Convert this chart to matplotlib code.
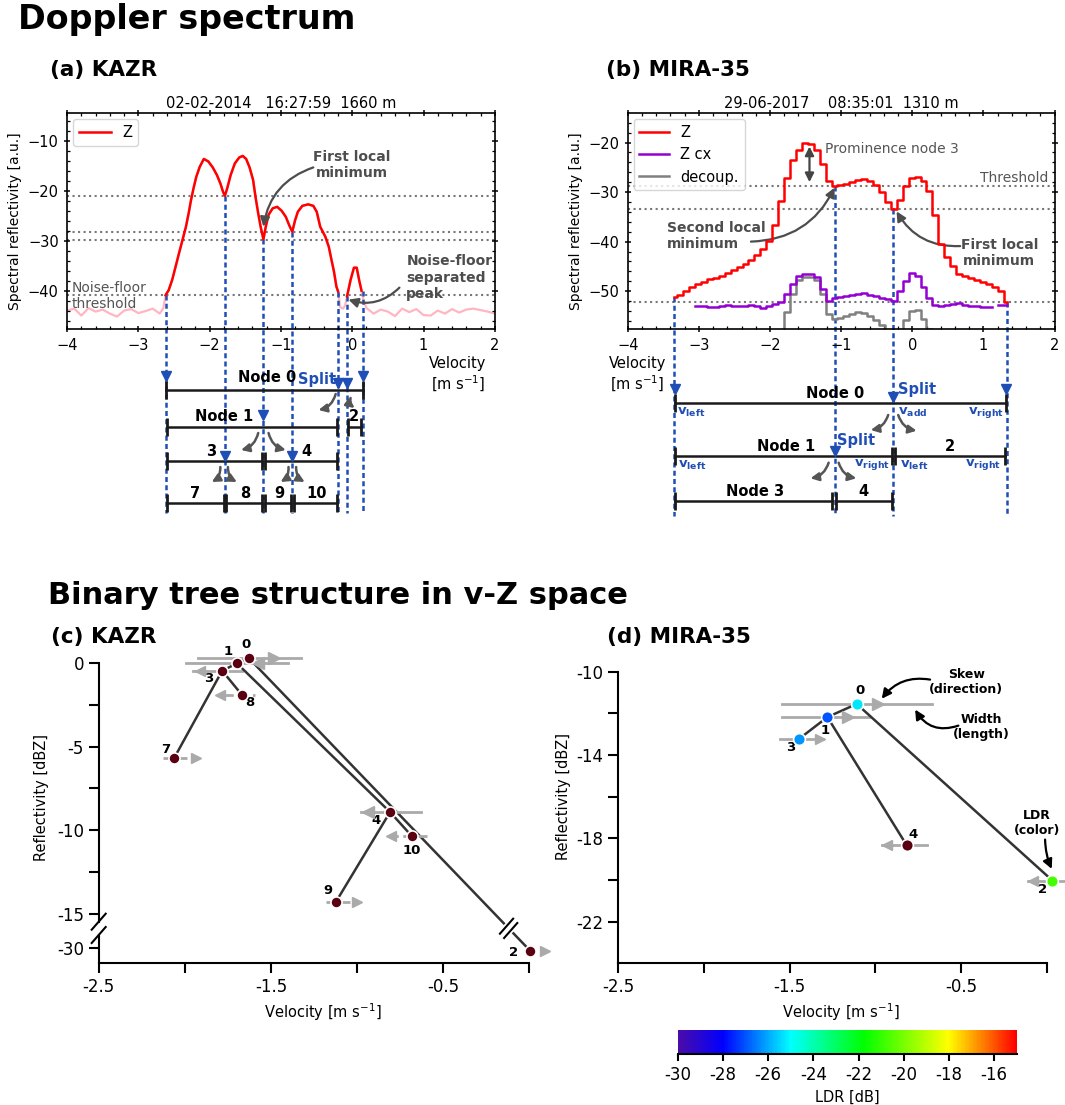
"""Doppler spectra with peak-node binary trees (KAZR, MIRA-35) and the trees in v-Z space."""

import numpy as np
import matplotlib

matplotlib.use("Agg")
import matplotlib.pyplot as plt
from matplotlib import cm
from matplotlib.colors import LinearSegmentedColormap, Normalize
from matplotlib.lines import Line2D
from matplotlib.patches import ConnectionPatch
from matplotlib.ticker import MultipleLocator

W, H = 1065, 1105  # output size in pixels at dpi 100

COLORS = {
    "z": "#ff0000",
    "zcx": "#9400d3",
    "decoup": "#808080",
    "noise": "#ffb6c1",
    "thresh": "#777777",
    "split": "#1f4fb5",
    "tree": "#1a1a1a",
    "tree_arrow": "#555555",
    "note": "#4d4d4d",
    "edge": "#333333",
    "width": "#aaaaaa",
    "no_ldr": "#5a0010",
}

# ---------------------------------------------------------------- (a) KAZR spectrum
KAZR_SIG_V = [-2.618, -2.575, -2.527, -2.478, -2.43, -2.382, -2.333, -2.295, -2.261, -2.222,
              -2.188, -2.14, -2.082, -2.019, -1.957, -1.899, -1.85, -1.812, -1.787, -1.754,
              -1.705, -1.647, -1.585, -1.536, -1.488, -1.44, -1.391, -1.357, -1.319, -1.285,
              -1.246, -1.213, -1.174, -1.116, -1.053, -0.99, -0.932, -0.884, -0.841, -0.802,
              -0.763, -0.7, -0.618, -0.546, -0.498, -0.449, -0.377, -0.329, -0.29, -0.256,
              -0.222, -0.198]
KAZR_SIG_Z = [-40.9, -39.9, -37.9, -35.2, -32.5, -29.9, -27.2, -24.5, -21.8, -19.2,
              -17.2, -15.2, -13.6, -14.1, -15.3, -16.8, -18.5, -20.2, -21.0, -19.5,
              -16.8, -14.5, -13.3, -13.0, -13.6, -15.3, -17.8, -21.2, -24.5, -27.2,
              -29.7, -27.2, -24.8, -23.5, -23.2, -24.0, -25.2, -26.9, -28.2, -25.9,
              -24.2, -23.0, -22.7, -23.0, -24.2, -27.2, -29.2, -31.2, -33.9, -36.2,
              -39.2, -40.2]
KAZR_PEAK_V = [-0.072, -0.024, 0.024, 0.063, 0.097, 0.13]
KAZR_PEAK_Z = [-41.1, -37.9, -35.4, -35.4, -37.9, -40.0]
KAZR_NOISE_LEFT_V = [-4.0, -3.9, -3.8, -3.7, -3.6, -3.5, -3.4, -3.3, -3.2, -3.1, -3.0, -2.9, -2.8, -2.7, -2.65]
KAZR_NOISE_LEFT_Z = [-44.0, -43.6, -45.0, -43.5, -44.2, -43.8, -44.6, -45.2, -44.0, -43.7, -44.5, -44.1, -43.6, -44.6, -43.5]
KAZR_NOISE_MID_V = [-0.17, -0.13, -0.10]
KAZR_NOISE_MID_Z = [-43.3, -43.6, -43.0]
KAZR_NOISE_RIGHT_V = [0.16, 0.2, 0.3, 0.4, 0.5, 0.6, 0.7, 0.8, 0.9, 1.0,
                      1.1, 1.2, 1.3, 1.4, 1.5, 1.6, 1.7, 1.8, 1.9, 2.0]
KAZR_NOISE_RIGHT_Z = [-42.0, -43.5, -44.6, -43.8, -44.2, -45.1, -43.6, -44.3, -43.7, -44.9,
                      -45.0, -44.0, -44.6, -43.7, -44.4, -43.8, -43.6, -43.9, -44.2, -44.6]
KAZR_THRESHOLDS = [-21.0, -28.3, -29.9, -40.9]
KAZR_BOUND_V = [-2.618, -1.787, -1.246, -0.841, -0.198, -0.072, 0.145]
KAZR_BOUND_Z = [-40.9, -21.0, -29.7, -28.2, -40.2, -41.1, -40.0]

# node velocity ranges of the KAZR tree (depth = row)
KAZR_SEG_NAME = ["Node 0", "Node 1", "2", "3", "4", "7", "8", "9", "10"]
KAZR_SEG_LO = [-2.618, -2.604, -0.053, -2.604, -1.225, -2.604, -1.77, -1.225, -0.817]
KAZR_SEG_HI = [0.145, -0.217, 0.121, -1.265, -0.217, -1.805, -1.265, -0.855, -0.217]
KAZR_SEG_DEPTH = [0, 1, 1, 2, 2, 3, 3, 3, 3]
KAZR_SEG_LABEL_V = [-1.198, -1.80, 0.024, -1.986, -0.643, -2.203, -1.502, -1.029, -0.498]

# ---------------------------------------------------------------- (b) MIRA-35 spectrum
MIRA_V = [-3.345, -3.262, -3.178, -3.095, -3.011, -2.928, -2.845, -2.761, -2.678, -2.594,
          -2.511, -2.428, -2.344, -2.261, -2.177, -2.094, -2.011, -1.927, -1.844, -1.760,
          -1.677, -1.594, -1.510, -1.427, -1.343, -1.260, -1.177, -1.093, -1.010, -0.926,
          -0.843, -0.760, -0.676, -0.593, -0.509, -0.426, -0.343, -0.259, -0.176, -0.092,
          -0.009, 0.075, 0.158, 0.241, 0.325, 0.408, 0.492, 0.575, 0.658, 0.742,
          0.825, 0.909, 0.992, 1.075, 1.159, 1.242, 1.326]
MIRA_Z = [-51.2, -50.7, -50.0, -49.2, -48.5, -48.1, -47.6, -47.3, -46.9, -46.4,
          -45.8, -45.2, -44.5, -43.7, -42.8, -41.5, -39.9, -36.7, -31.9, -27.1,
          -23.5, -21.5, -20.1, -20.3, -21.5, -24.3, -27.7, -28.8, -28.5, -28.3,
          -28.0, -27.5, -27.3, -27.7, -28.5, -30.0, -32.0, -33.4, -31.7, -28.7,
          -27.1, -26.9, -27.7, -29.8, -34.7, -40.4, -43.1, -45.0, -46.5, -47.0,
          -47.4, -47.8, -48.2, -48.6, -49.2, -50.0, -52.2]
nan = np.nan
MIRA_ZCX = [nan, nan, nan, nan, -52.9, -53.0, -53.2, -53.1, -53.0, -52.8,
            -52.9, -53.0, -53.0, -52.8, -53.0, -53.4, -53.0, -52.5, -52.2, -50.5,
            -48.5, -47.0, -46.5, -46.6, -47.2, -49.5, -51.9, -51.3, -51.1, -50.9,
            -50.7, -50.5, -50.4, -50.7, -51.0, -51.3, -51.5, -51.9, -49.9, -48.0,
            -46.4, -47.0, -49.2, -51.3, -52.7, -53.0, -52.7, -52.5, -52.3, -52.7,
            -52.9, -53.0, -53.1, -53.2, nan, -52.8, -52.8]
MIRA_DECOUP = [nan, nan, nan, nan, nan, nan, nan, nan, nan, nan,
               nan, nan, nan, nan, nan, nan, nan, nan, -60.0, -54.2,
               -50.5, -47.7, -47.2, -47.2, -47.7, -50.5, -54.6, -55.6, -55.4, -55.1,
               -54.6, -54.2, -54.4, -55.1, -55.9, -56.9, -60.0, nan, -60.0, -55.8,
               -54.0, -53.9, -55.6, -57.6, -60.0, nan, nan, nan, nan, nan,
               nan, nan, nan, nan, nan, nan, nan]
MIRA_THRESHOLDS = [-28.7, -33.4, -52.1]
MIRA_BOUND_V = [-3.345, -1.086, -0.267, 1.327]
MIRA_BOUND_Z = [-51.2, -28.8, -33.4, -52.2]

MIRA_SEG_NAME = ["Node 0", "Node 1", "2", "Node 3", "4"]
MIRA_SEG_LO = [-3.341, -3.33, -0.245, -3.33, -1.068]
MIRA_SEG_HI = [1.322, -0.292, 1.308, -1.125, -0.292]
MIRA_SEG_DEPTH = [0, 1, 1, 2, 2]
MIRA_SEG_LABEL_V = [-1.082, -1.77, 0.532, -2.216, -0.682]

# ---------------------------------------------------------------- (c) KAZR tree in v-Z space
C_ID = [0, 1, 2, 3, 4, 7, 8, 9, 10]
C_PARENT = [None, 0, 0, 1, 1, 3, 3, 4, 4]
C_V = [-1.629, -1.697, 0.005, -1.783, -0.808, -2.063, -1.669, -1.122, -0.682]
C_Z = [0.28, -0.04, -30.14, -0.48, -8.91, -5.71, -1.91, -14.26, -10.34]
C_WIDTH_LO = [-1.922, -1.993, -0.01, -1.951, -0.979, -2.128, -1.78, -1.18, -0.818]
C_WIDTH_HI = [-1.327, -1.399, 0.02, -1.670, -0.630, -1.989, -1.59, -1.041, -0.595]
C_SKEW_V = [-1.48, -1.573, 0.092, -1.912, -0.934, -1.935, -1.795, -0.998, -0.804]
C_SKEW_SIGN = [1, -1, 1, -1, -1, 1, -1, 1, -1]
C_LDR = [nan, nan, nan, nan, nan, nan, nan, nan, nan]
C_WIDTH_LS = ["-", "-", "-", "-", "-", "--", "--", "--", "--"]
C_LABEL_OFF = [(-3, 14), (-9, 12), (-16, -2), (-13, -8), (-14, -8), (-8, 9), (8, -8), (-8, 11), (0, -14)]

# ---------------------------------------------------------------- (d) MIRA-35 tree in v-Z space
D_ID = [0, 1, 2, 3, 4]
D_PARENT = [None, 0, 0, 1, 1]
D_V = [-1.109, -1.280, 0.033, -1.446, -0.817]
D_Z = [-11.55, -12.18, -20.03, -13.23, -18.34]
D_WIDTH_LO = [-1.547, -1.547, -0.107, -1.556, -0.963]
D_WIDTH_HI = [-0.671, -1.031, 0.107, -1.303, -0.700]
D_SKEW_V = [-0.982, -1.158, -0.082, -1.323, -0.934]
D_SKEW_SIGN = [1, 1, -1, 1, -1]
D_LDR = [-25.3, -27.0, -20.8, -26.2, nan]
D_LABEL_OFF = [(3, 13), (-2, -13), (-10, -9), (-8, -9), (6, 11)]

LDR_TICKS = [-30, -28, -26, -24, -22, -20, -18, -16]

LDR_CMAP = LinearSegmentedColormap.from_list(
    "ldr", [(0.0, "#4b0ca8"), (0.133, "#0000ff"), (0.333, "#00ffff"),
            (0.55, "#00ff00"), (0.8, "#ffff00"), (1.0, "#ff0000")])
LDR_CMAP.set_bad(COLORS["no_ldr"])
LDR_NORM = Normalize(-30, -15)

plt.rcParams["font.family"] = "DejaVu Sans"

fig = plt.figure(figsize=(W / 100, H / 100), dpi=100)

SPEC_TOP, SPEC_BOTTOM = 113.3, 329.3


def rect(left, top, right, bottom):
    """Pixel box (top-left origin) -> add_axes rectangle."""
    return [left / W, 1 - bottom / H, (right - left) / W, (bottom - top) / H]


def row(py):
    """Pixel row around a spectrum axis -> axes fraction."""
    return (SPEC_BOTTOM - py) / (SPEC_BOTTOM - SPEC_TOP)


def style_spectrum(ax, ylim, title):
    ax.set_xlim(-4, 2)
    ax.set_ylim(*ylim)
    ax.xaxis.set_major_locator(MultipleLocator(1))
    ax.xaxis.set_minor_locator(MultipleLocator(0.2))
    ax.yaxis.set_major_locator(MultipleLocator(10))
    ax.yaxis.set_minor_locator(MultipleLocator(2))
    ax.tick_params(which="both", top=True, right=True, labelsize=10.5)
    ax.tick_params(which="major", length=5, width=1.1, direction="inout")
    ax.tick_params(which="minor", length=2.5, width=0.9, direction="in")
    for spine in ax.spines.values():
        spine.set_linewidth(1.2)
    ax.set_ylabel("Spectral reflectivity [a.u.]", fontsize=10)
    ax.set_title(title, fontsize=10.5, pad=4)


def draw_bounds(ax, bound_v, bound_z, bottom_py):
    y0, y1 = ax.get_ylim()
    zb = y0 + row(bottom_py) * (y1 - y0)
    for v, z in zip(bound_v, bound_z):
        ax.plot([v, v], [z, zb], color=COLORS["split"], lw=1.8, ls=(0, (2, 1.3)),
                clip_on=False, zorder=1)


def draw_tree(ax, lo, hi, depth, names, label_v, seg_rows, label_rows):
    tr = ax.get_xaxis_transform()
    for l, h, d, name, lv in zip(lo, hi, depth, names, label_v):
        y = row(seg_rows[d])
        ax.plot([l, h], [y, y], transform=tr, color=COLORS["tree"], lw=1.8,
                marker="|", ms=13, mew=2, clip_on=False)
        ax.text(lv, row(label_rows[d]), name, transform=tr, ha="center", va="center",
                fontsize=10.5, weight="bold")


def split_marks(ax, points):
    tr = ax.get_xaxis_transform()
    for v, py in points:
        ax.plot(v, row(py), transform=tr, marker="v", ms=7, color=COLORS["split"],
                clip_on=False, zorder=5)


def tree_arrow(ax, tail, head, rad):
    tr = ax.get_xaxis_transform()
    ax.annotate("", xy=(head[0], row(head[1])), xycoords=tr,
                xytext=(tail[0], row(tail[1])), textcoords=tr, annotation_clip=False,
                arrowprops=dict(arrowstyle="-|>", color=COLORS["tree_arrow"], lw=1.8,
                                mutation_scale=12, shrinkA=0, shrinkB=0,
                                connectionstyle=f"arc3,rad={rad}"))


def note_arrow(ax, tail, head, rad, color):
    ax.annotate("", xy=head, xytext=tail, annotation_clip=False,
                arrowprops=dict(arrowstyle="-|>", color=color, lw=1.6, mutation_scale=14,
                                shrinkA=0, shrinkB=0, connectionstyle=f"arc3,rad={rad}"))


def blue_text(ax, v, py, s, ha="left", size=10.5):
    ax.text(v, row(py), s, transform=ax.get_xaxis_transform(), ha=ha, va="center",
            color=COLORS["split"], fontsize=size, weight="bold")


# ================================================================ (a)
ax_a = fig.add_axes(rect(67.1, SPEC_TOP, 494.8, SPEC_BOTTOM))
style_spectrum(ax_a, (-47.75, -4.45), "02-02-2014   16:27:59  1660 m")
full_v = KAZR_NOISE_LEFT_V + KAZR_SIG_V + KAZR_NOISE_MID_V + KAZR_PEAK_V + KAZR_NOISE_RIGHT_V
full_z = KAZR_NOISE_LEFT_Z + KAZR_SIG_Z + KAZR_NOISE_MID_Z + KAZR_PEAK_Z + KAZR_NOISE_RIGHT_Z
ax_a.plot(full_v, full_z, color=COLORS["noise"], lw=1.6, zorder=1)
for z in KAZR_THRESHOLDS:
    ax_a.axhline(z, color=COLORS["thresh"], ls=":", lw=1.5, zorder=1)
ax_a.plot(KAZR_SIG_V, KAZR_SIG_Z, color=COLORS["z"], lw=1.8, label="Z", zorder=3)
ax_a.plot(KAZR_PEAK_V, KAZR_PEAK_Z, color=COLORS["z"], lw=1.8, zorder=3)
ax_a.legend(loc="upper left", fontsize=10.5, handlelength=2.2, borderaxespad=0.4)

ax_a.text(-0.01, -14.8, "First local\nminimum", ha="center", va="center", fontsize=10,
          weight="bold", color=COLORS["note"])
note_arrow(ax_a, (-0.546, -15.3), (-1.246, -27.2), 0.3, COLORS["note"])
ax_a.text(0.758, -37.4, "Noise-floor\nseparated\npeak", ha="left", va="center", fontsize=10,
          weight="bold", color=COLORS["note"])
note_arrow(ax_a, (0.662, -39.4), (-0.053, -41.8), -0.3, COLORS["note"])
ax_a.text(-3.94, -41.0, "Noise-floor\nthreshold", ha="left", va="center", fontsize=10, color="#555555")
ax_a.text(1.484, row(375), "Velocity\n[m s$^{-1}$]", transform=ax_a.get_xaxis_transform(),
          ha="center", va="center", fontsize=10.5)

draw_bounds(ax_a, KAZR_BOUND_V, KAZR_BOUND_Z, 513)
draw_tree(ax_a, KAZR_SEG_LO, KAZR_SEG_HI, KAZR_SEG_DEPTH, KAZR_SEG_NAME, KAZR_SEG_LABEL_V,
          [390, 427, 461, 503], [378, 417, 452, 494])
split_marks(ax_a, [(-2.618, 376), (0.145, 376), (-0.198, 383), (-0.072, 383),
                   (-1.246, 415), (-1.787, 456), (-0.841, 456)])
blue_text(ax_a, -0.488, 380, "Split", ha="center")
tree_arrow(ax_a, (-0.232, 394), (-0.473, 410), -0.3)
tree_arrow(ax_a, (-0.024, 398), (0.034, 408), 0.3)
tree_arrow(ax_a, (-1.319, 433), (-1.56, 450), -0.3)
tree_arrow(ax_a, (-1.174, 433), (-0.932, 450), 0.3)
tree_arrow(ax_a, (-1.85, 467), (-1.971, 482), -0.3)
tree_arrow(ax_a, (-1.744, 467), (-1.618, 482), 0.3)
tree_arrow(ax_a, (-0.894, 467), (-1.005, 482), -0.3)
tree_arrow(ax_a, (-0.787, 467), (-0.667, 482), 0.3)

# ================================================================ (b)
ax_b = fig.add_axes(rect(627.7, SPEC_TOP, 1054.6, SPEC_BOTTOM))
style_spectrum(ax_b, (-57.7, -14.1), "29-06-2017    08:35:01  1310 m")
for z in MIRA_THRESHOLDS:
    ax_b.axhline(z, color=COLORS["thresh"], ls=":", lw=1.5, zorder=1)
ax_b.plot(MIRA_V, MIRA_Z, color=COLORS["z"], lw=1.8, drawstyle="steps-mid", label="Z", zorder=4)
ax_b.plot(MIRA_V, MIRA_ZCX, color=COLORS["zcx"], lw=1.8, drawstyle="steps-mid", label="Z cx", zorder=3)
ax_b.plot(MIRA_V, MIRA_DECOUP, color=COLORS["decoup"], lw=1.8, drawstyle="steps-mid",
          label="decoup.", zorder=2)
ax_b.legend(loc="upper left", fontsize=10.5, handlelength=2.0, borderaxespad=0.4)

ax_b.annotate("", xy=(-1.445, -28.0), xytext=(-1.445, -20.8),
              arrowprops=dict(arrowstyle="<|-|>", color="#444444", lw=1.6, mutation_scale=13,
                              shrinkA=0, shrinkB=0))
ax_b.text(-1.22, -21.4, "Prominence node 3", ha="left", va="center", fontsize=10, color="#555555")
ax_b.text(1.91, -27.1, "Threshold", ha="right", va="center", fontsize=10, color="#555555")
ax_b.text(-3.454, -38.8, "Second local\nminimum", ha="left", va="center", fontsize=10,
          weight="bold", color=COLORS["note"])
note_arrow(ax_b, (-2.268, -40.0), (-1.092, -29.1), 0.3, COLORS["note"])
ax_b.text(1.224, -42.3, "First local\nminimum", ha="center", va="center", fontsize=10,
          weight="bold", color=COLORS["note"])
note_arrow(ax_b, (0.673, -40.9), (-0.221, -33.9), -0.3, COLORS["note"])
ax_b.text(-3.868, row(375), "Velocity\n[m s$^{-1}$]", transform=ax_b.get_xaxis_transform(),
          ha="center", va="center", fontsize=10.5)

draw_bounds(ax_b, MIRA_BOUND_V, MIRA_BOUND_Z, 516)
draw_tree(ax_b, MIRA_SEG_LO, MIRA_SEG_HI, MIRA_SEG_DEPTH, MIRA_SEG_NAME, MIRA_SEG_LABEL_V,
          [403.3, 456, 501], [394, 446.7, 491.7])
split_marks(ax_b, [(-3.341, 389.3), (1.322, 389.3), (-0.268, 396.7), (-1.092, 450.7)])
blue_text(ax_b, -0.207, 390, "Split")
blue_text(ax_b, -1.054, 441, "Split")
for v, py, s, ha in [(-3.304, 412.7, "left", "left"), (-0.198, 412.7, "add", "left"),
                     (1.285, 412.7, "right", "right"), (-3.289, 465, "left", "left"),
                     (-0.315, 465, "right", "right"), (-0.174, 465, "left", "left"),
                     (1.252, 465, "right", "right")]:
    blue_text(ax_b, v, py, r"$\mathbf{v_{" + s + "}}$", ha=ha, size=9.5)
tree_arrow(ax_b, (-0.339, 415), (-0.584, 430), -0.3)
tree_arrow(ax_b, (-0.198, 415), (0.061, 430.7), 0.3)
tree_arrow(ax_b, (-1.176, 462.7), (-1.431, 478.3), -0.3)
tree_arrow(ax_b, (-1.035, 462.7), (-0.786, 478.3), 0.3)


# ================================================================ (c) / (d)
def style_vz(ax, bottom=True):
    for side in ("top", "right"):
        ax.spines[side].set_visible(False)
    for side in ("left", "bottom"):
        ax.spines[side].set_linewidth(1.5)
    ax.tick_params(which="both", labelsize=12, length=7, width=1.5, direction="out")
    if bottom:
        ax.set_xlim(-2.5, 0.1)
        ax.spines["bottom"].set_bounds(-2.5, 0)
        ax.set_xticks([-2.5, -2.0, -1.5, -1.0, -0.5, 0.0])
        ax.set_xticklabels(["-2.5", "", "-1.5", "", "-0.5", ""])
        ax.set_xlabel("Velocity [m s$^{-1}$]", fontsize=10.5)


def node_color(ldr):
    return LDR_CMAP(LDR_NORM(ldr))


def draw_vz_nodes(axes_of, ids, vs, zs, lo, hi, skew_v, skew_sign, ldr, offs, width_ls, ms):
    for i, nid in enumerate(ids):
        ax = axes_of(zs[i])
        ax.plot([lo[i], hi[i]], [zs[i], zs[i]], color=COLORS["width"], lw=2, ls=width_ls[i],
                clip_on=False, zorder=2)
        size = 9 if hi[i] - lo[i] > 0.3 else 6.5
        ax.plot(skew_v[i], zs[i], marker=">" if skew_sign[i] > 0 else "<", ms=size,
                color=COLORS["width"], clip_on=False, zorder=4, lw=0)
        ax.plot(vs[i], zs[i], marker="o", ms=ms, mfc=node_color(ldr[i]), mec="white", mew=1.2,
                clip_on=False, zorder=6, lw=0)
        ax.annotate(str(nid), (vs[i], zs[i]), xytext=offs[i], textcoords="offset pixels",
                    ha="center", va="center", fontsize=9.5, weight="bold", annotation_clip=False)


def draw_vz_edges(axes_of, ids, parents, vs, zs):
    for i, p in enumerate(parents):
        if p is None:
            continue
        j = ids.index(p)
        ax_p, ax_c = axes_of(zs[j]), axes_of(zs[i])
        if ax_p is ax_c:
            ax_c.plot([vs[j], vs[i]], [zs[j], zs[i]], color=COLORS["edge"], lw=1.8,
                      clip_on=False, zorder=3)
        else:
            con = ConnectionPatch(xyA=(vs[j], zs[j]), coordsA=ax_p.transData,
                                  xyB=(vs[i], zs[i]), coordsB=ax_c.transData,
                                  color=COLORS["edge"], lw=1.8, zorder=-1)
            fig.add_artist(con)


# ---- (c) KAZR with broken reflectivity axis
C_LEFT, C_RIGHT = 98.7, 98.7 + 2.6 * 172.2
ax_c_up = fig.add_axes(rect(C_LEFT, 662.7, C_RIGHT, 921.7))
ax_c_lo = fig.add_axes(rect(C_LEFT, 935.0, C_RIGHT, 963.3))
for ax in (ax_c_up, ax_c_lo):
    ax.patch.set_visible(False)
style_vz(ax_c_lo)
style_vz(ax_c_up, bottom=False)
ax_c_up.set_xlim(-2.5, 0.1)
ax_c_up.spines["bottom"].set_visible(False)
ax_c_up.tick_params(axis="x", which="both", bottom=False, labelbottom=False)
ax_c_up.set_ylim(-15.45, 0)
ax_c_up.set_yticks([0, -2.5, -5, -7.5, -10, -12.5, -15])
ax_c_up.set_yticklabels(["0", "", "-5", "", "-10", "", "-15"])
ax_c_lo.set_ylim(-30.9, -29.2)
ax_c_lo.set_yticks([-30])
ax_c_lo.set_yticklabels(["-30"])
ax_c_up.set_ylabel("Reflectivity [dBZ]", fontsize=10.5)
ax_c_up.yaxis.set_label_coords(-0.11, 0.479)


def c_axes(z):
    return ax_c_lo if z < -20 else ax_c_up


draw_vz_edges(c_axes, C_ID, C_PARENT, C_V, C_Z)
draw_vz_nodes(c_axes, C_ID, C_V, C_Z, C_WIDTH_LO, C_WIDTH_HI, C_SKEW_V, C_SKEW_SIGN, C_LDR,
              C_LABEL_OFF, C_WIDTH_LS, 8)


def fig_line(xs, ys, **kw):
    """Line in display pixels (origin bottom-left)."""
    fig.add_artist(Line2D([x / W for x in xs], [y / H for y in ys],
                          transform=fig.transFigure, **kw))


# break marks on the reflectivity axis
for yb in (H - 921.7, H - 935.0):
    fig_line([C_LEFT - 7, C_LEFT + 7], [yb - 8, yb + 8], color="black", lw=1.5, zorder=5)
# break marks on the edge that crosses the gap
p0 = ax_c_up.transData.transform((C_V[0], C_Z[0]))
p2 = ax_c_lo.transData.transform((C_V[2], C_Z[2]))
yc = H - (921.7 + 935.0) / 2
t = (yc - p0[1]) / (p2[1] - p0[1])
cen = p0 + t * (p2 - p0)
u = (p2 - p0) / np.hypot(*(p2 - p0))
wv = np.array([0.66, 0.75])
fig_line([cen[0] - 3 * u[0], cen[0] + 3 * u[0]], [cen[1] - 3 * u[1], cen[1] + 3 * u[1]],
         color="white", lw=4, zorder=5)
for s in (-3, 3):
    c = cen + s * u
    fig_line([c[0] - 10 * wv[0], c[0] + 10 * wv[0]], [c[1] - 10 * wv[1], c[1] + 10 * wv[1]],
             color="black", lw=1.5, zorder=6)

# ---- (d) MIRA-35
D_LEFT = 618.3
ax_d = fig.add_axes(rect(D_LEFT, 963.3 - 16 * 20.83, D_LEFT + 2.6 * 171.4, 963.3))
ax_d.patch.set_visible(False)
style_vz(ax_d)
ax_d.set_ylim(-24, -8)
ax_d.spines["left"].set_bounds(-24, -10)
ax_d.set_yticks([-10, -12, -14, -16, -18, -20, -22])
ax_d.set_yticklabels(["-10", "", "-14", "", "-18", "", "-22"])
ax_d.set_ylabel("Reflectivity [dBZ]", fontsize=10.5)

draw_vz_edges(lambda z: ax_d, D_ID, D_PARENT, D_V, D_Z)
draw_vz_nodes(lambda z: ax_d, D_ID, D_V, D_Z, D_WIDTH_LO, D_WIDTH_HI, D_SKEW_V, D_SKEW_SIGN,
              D_LDR, D_LABEL_OFF, ["-"] * 5, 8.5)

ax_d.text(-0.47, -10.51, "Skew\n(direction)", ha="center", va="center", fontsize=9, weight="bold")
note_arrow(ax_d, (-0.681, -10.38), (-0.963, -11.30), 0.3, "black")
ax_d.text(-0.38, -12.67, "Width\n(length)", ha="center", va="center", fontsize=9, weight="bold")
note_arrow(ax_d, (-0.516, -12.59), (-0.768, -11.82), -0.4, "black")
ax_d.text(-0.058, -17.27, "LDR\n(color)", ha="center", va="center", fontsize=9, weight="bold")
note_arrow(ax_d, (-0.010, -18.06), (0.029, -19.47), 0.1, "black")

# ---- colorbar
cax = fig.add_axes(rect(677.7, 1030.0, 1016.7, 1054.3))
cb = fig.colorbar(cm.ScalarMappable(norm=LDR_NORM, cmap=LDR_CMAP), cax=cax,
                  orientation="horizontal", ticks=LDR_TICKS)
cb.set_ticklabels([str(t) for t in LDR_TICKS])
cb.outline.set_visible(False)
cax.plot([0, 1], [0, 0], transform=cax.transAxes, color="black", lw=1.5, clip_on=False)
cax.tick_params(labelsize=12, length=5, width=1.5, direction="out")
cb.set_label("LDR [dB]", fontsize=10.5)

# ---- headings
fig.text(18 / W, 1 - 20 / H, "Doppler spectrum", fontsize=24, weight="bold", va="center")
fig.text(48 / W, 1 - 595 / H, "Binary tree structure in v-Z space", fontsize=22, weight="bold",
         va="center")
fig.text(50 / W, 1 - 70 / H, "(a) KAZR", fontsize=15.5, weight="bold", va="center")
fig.text(606 / W, 1 - 70 / H, "(b) MIRA-35", fontsize=15.5, weight="bold", va="center")
fig.text(51 / W, 1 - 637 / H, "(c) KAZR", fontsize=15.5, weight="bold", va="center")
fig.text(607 / W, 1 - 637 / H, "(d) MIRA-35", fontsize=15.5, weight="bold", va="center")

fig.savefig("out.png", dpi=100)
